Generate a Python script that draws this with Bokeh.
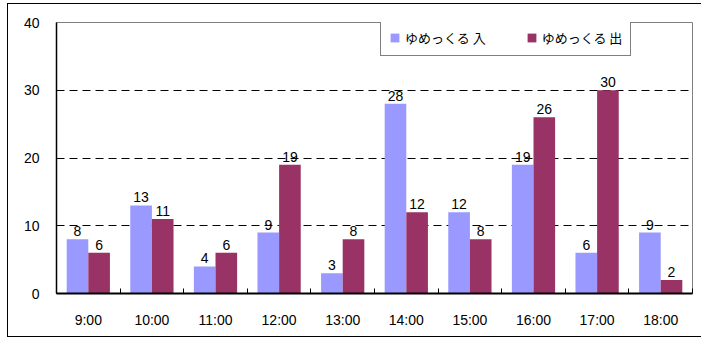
from bokeh.plotting import figure
from bokeh.models import (ColumnDataSource, Range1d, FixedTicker, LabelSet, Legend,
                          LegendItem)
from bokeh.core.properties import value
from bokeh.transform import dodge
from bokeh.embed import file_html
from bokeh.resources import INLINE

hours = ["9:00", "10:00", "11:00", "12:00", "13:00", "14:00", "15:00", "16:00", "17:00", "18:00"]
vals_in = [8, 13, 4, 9, 3, 28, 12, 19, 6, 9]
vals_out = [6, 11, 6, 19, 8, 12, 8, 26, 30, 2]
series_names = ["ゆめっくる 入", "ゆめっくる 出"]
colors = ["#9999FF", "#993366"]
y_ticks = [0, 10, 20, 30, 40]
grid_ticks = [10, 20, 30]

n = len(hours)
xs = [i + 0.5 for i in range(n)]
src = ColumnDataSource(dict(
    x=xs,
    vin=vals_in,
    vout=vals_out,
    tin=[str(v) for v in vals_in],
    tout=[str(v) for v in vals_out],
))

p = figure(width=695, height=334, output_backend="svg", toolbar_location=None,
           x_range=Range1d(0, n), y_range=Range1d(0, 40),
           min_border_left=48, min_border_right=11, min_border_top=18, min_border_bottom=45)
p.margin = (3, 0, 0, 7)
p.styles = {"border": "1px solid black"}
p.background_fill_color = "white"
p.border_fill_color = "white"
p.outline_line_color = "#808080"
p.outline_line_width = 1

bw = 0.34
r1 = p.vbar(x=dodge("x", -bw / 2, range=p.x_range), top="vin", width=bw, source=src,
            fill_color=colors[0], line_color=None)
r2 = p.vbar(x=dodge("x", bw / 2, range=p.x_range), top="vout", width=bw, source=src,
            fill_color=colors[1], line_color=None)

lab_font = "Liberation Sans"
fs = "14px"
for col, tcol, off in [("vin", "tin", -bw / 2), ("vout", "tout", bw / 2)]:
    ls = LabelSet(x=dodge("x", off, range=p.x_range), y=col, text=tcol, source=src,
                  text_align="center", text_baseline="bottom", y_offset=3,
                  text_font=value(lab_font), text_font_size=value(fs),
                  text_color="black")
    p.add_layout(ls)

# grid
p.xgrid.visible = False
p.ygrid.ticker = FixedTicker(ticks=grid_ticks)
p.ygrid.grid_line_color = "black"
p.ygrid.grid_line_dash = "8 5"
p.ygrid.grid_line_width = 1

# y axis
p.yaxis.ticker = FixedTicker(ticks=y_ticks)
p.yaxis.major_tick_in = 0
p.yaxis.major_tick_out = 0
p.yaxis.minor_tick_line_color = None
p.yaxis.axis_line_color = "black"
p.yaxis.axis_line_width = 1.5
p.yaxis.major_label_standoff = 17
p.yaxis.major_label_text_font = lab_font
p.yaxis.major_label_text_font_size = fs
p.yaxis.major_label_text_color = "black"

# x axis
p.xaxis.ticker = FixedTicker(ticks=xs, minor_ticks=list(range(n + 1)))
p.xaxis.major_label_overrides = {x: h for x, h in zip(xs, hours)}
p.xaxis.major_tick_line_color = None
p.xaxis.minor_tick_line_color = "black"
p.xaxis.minor_tick_in = 5
p.xaxis.minor_tick_out = 0
p.xaxis.axis_line_color = "black"
p.xaxis.axis_line_width = 2
p.xaxis.major_label_standoff = 12
p.xaxis.major_label_text_font = lab_font
p.xaxis.major_label_text_font_size = fs
p.xaxis.major_label_text_color = "black"

legend = Legend(items=[LegendItem(label=series_names[0], renderers=[r1]),
                       LegendItem(label=series_names[1], renderers=[r2])],
                orientation="horizontal", location=(324, 237),
                glyph_width=11, glyph_height=11, label_height=12, label_standoff=5,
                padding=8, spacing=40, margin=0,
                border_line_color="black", border_line_width=1,
                background_fill_color="white", background_fill_alpha=1,
                label_text_font="Noto Sans CJK JP", label_text_font_size="13px",
                label_text_color="black")
p.add_layout(legend)

open("out.html", "w").write(file_html(p, INLINE))
